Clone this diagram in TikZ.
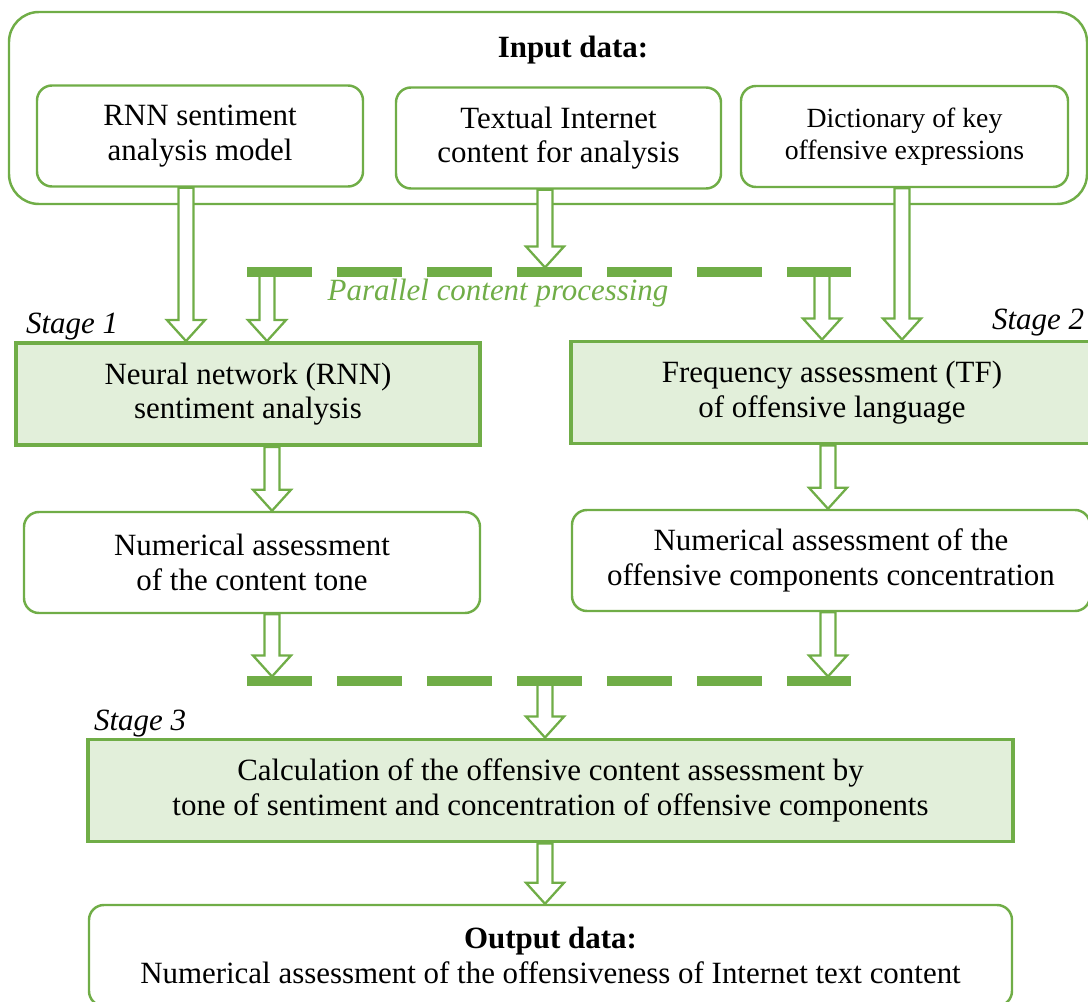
\documentclass[tikz,border=0pt]{standalone}
\usepackage{fontspec}
\setmainfont{Liberation Serif}
\usetikzlibrary{calc}
\definecolor{gr}{HTML}{70AD47}
\definecolor{lg}{HTML}{E2EFDA}
\newcommand{\txt}{\fontsize{17.6}{19.6}\selectfont}
\newcommand{\blockarrow}[2]{
\draw[hollow] let \p1=#1, \p2=#2 in (\x1-0.15cm,\y1) -- (\x1-0.15cm,\y2+0.42cm) -- (\x1-0.38cm,\y2+0.42cm) -- (\x1,\y2) -- (\x1+0.38cm,\y2+0.42cm) -- (\x1+0.15cm,\y2+0.42cm) -- (\x1+0.15cm,\y1) -- cycle;
}
\tikzset{
inbox/.style={draw=gr,line width=1.4pt,rounded corners=0.3cm,fill=white,align=center,minimum height=2.02cm,inner sep=0pt,font=\txt},
stagebox/.style={draw=gr,line width=2.2pt,fill=lg,align=center,minimum height=2.04cm,inner sep=0pt,font=\txt},
hollow/.style={draw=gr,line width=1.3pt,fill=white},
dashbar/.style={draw=gr,line width=0.19cm,dash pattern=on 1.29cm off 0.51cm},
stagelbl/.style={font=\txt\itshape}
}

\begin{document}
\begin{tikzpicture}
\useasboundingbox (0,0) rectangle (21.76,-20.04);
\node (input) at (10.96,-2.16) [draw=gr,line width=1.4pt,rounded corners=0.6cm,minimum width=21.56cm,minimum height=3.84cm] {};
\node (inputlbl) at (11.46,-1.0) [font=\txt\bfseries] {Input data:};
\node (rnn) at (4.0,-2.72) [inbox,minimum width=6.52cm] {RNN sentiment\\analysis model};
\node (textual) at (11.17,-2.76) [inbox,minimum width=6.5cm] {Textual Internet\\content for analysis};
\node (dict) at (18.09,-2.73) [inbox,minimum width=6.54cm,font=\fontsize{15.8}{18.2}\selectfont] {Dictionary of key\\offensive expressions};
\node (stageone) at (4.96,-7.88) [stagebox,minimum width=9.28cm] {Neural network (RNN)\\sentiment analysis};
\node (stagetwo) at (16.64,-7.85) [stagebox,minimum width=10.44cm] {Frequency assessment (TF)\\of offensive language};
\node (numone) at (5.04,-11.25) [inbox,minimum width=9.12cm] {Numerical assessment\\of the content tone};
\node (numtwo) at (16.62,-11.21) [inbox,minimum width=10.36cm] {Numerical assessment of the\\offensive components concentration};
\node (stagethree) at (11.01,-15.81) [stagebox,minimum width=18.5cm] {Calculation of the offensive content assessment by\\tone of sentiment and concentration of offensive components};
\node (output) at (11.01,-19.11) [inbox,minimum width=18.46cm] {\textbf{Output data:}\\Numerical assessment of the offensiveness of Internet text content};
\node (parlbl) at (9.96,-5.86) [font=\txt\itshape,text=gr] {Parallel content processing};
\node (st1) at (1.44,-6.54) [stagelbl] {Stage 1};
\node (st2) at (20.76,-6.46) [stagelbl] {Stage 2};
\node (st3) at (2.8,-14.48) [stagelbl] {Stage 3};
% arrow columns and bars
\coordinate (xa) at (3.72,0);
\coordinate (xb) at (5.34,0);
\coordinate (xc) at (10.9,0);
\coordinate (xd) at (16.44,0);
\coordinate (xe) at (18.04,0);
\coordinate (xf) at (5.44,0);
\coordinate (xg) at (16.56,0);
\coordinate (barAl) at (4.94,-5.44);
\coordinate (barAr) at (17.02,-5.44);
\coordinate (barAtop) at (4.94,-5.35);
\coordinate (barBl) at (4.94,-13.62);
\coordinate (barBr) at (17.02,-13.62);
\coordinate (barBtop) at (4.94,-13.53);
\blockarrow{(rnn.south -| xa)}{(stageone.north -| xa)}
\blockarrow{(textual.south -| xc)}{(barAtop -| xc)}
\blockarrow{(dict.south -| xe)}{(stagetwo.north -| xe)}
\blockarrow{(barAl -| xb)}{(stageone.north -| xb)}
\blockarrow{(barAl -| xd)}{(stagetwo.north -| xd)}
\blockarrow{(stageone.south -| xf)}{(numone.north -| xf)}
\blockarrow{(stagetwo.south -| xg)}{(numtwo.north -| xg)}
\blockarrow{(numone.south -| xf)}{(barBtop -| xf)}
\blockarrow{(numtwo.south -| xg)}{(barBtop -| xg)}
\blockarrow{(barBl -| xc)}{(stagethree.north -| xc)}
\blockarrow{(stagethree.south -| xc)}{(output.north -| xc)}
\draw[dashbar] (barAl) -- (barAr);
\draw[dashbar] (barBl) -- (barBr);
\end{tikzpicture}
\end{document}
